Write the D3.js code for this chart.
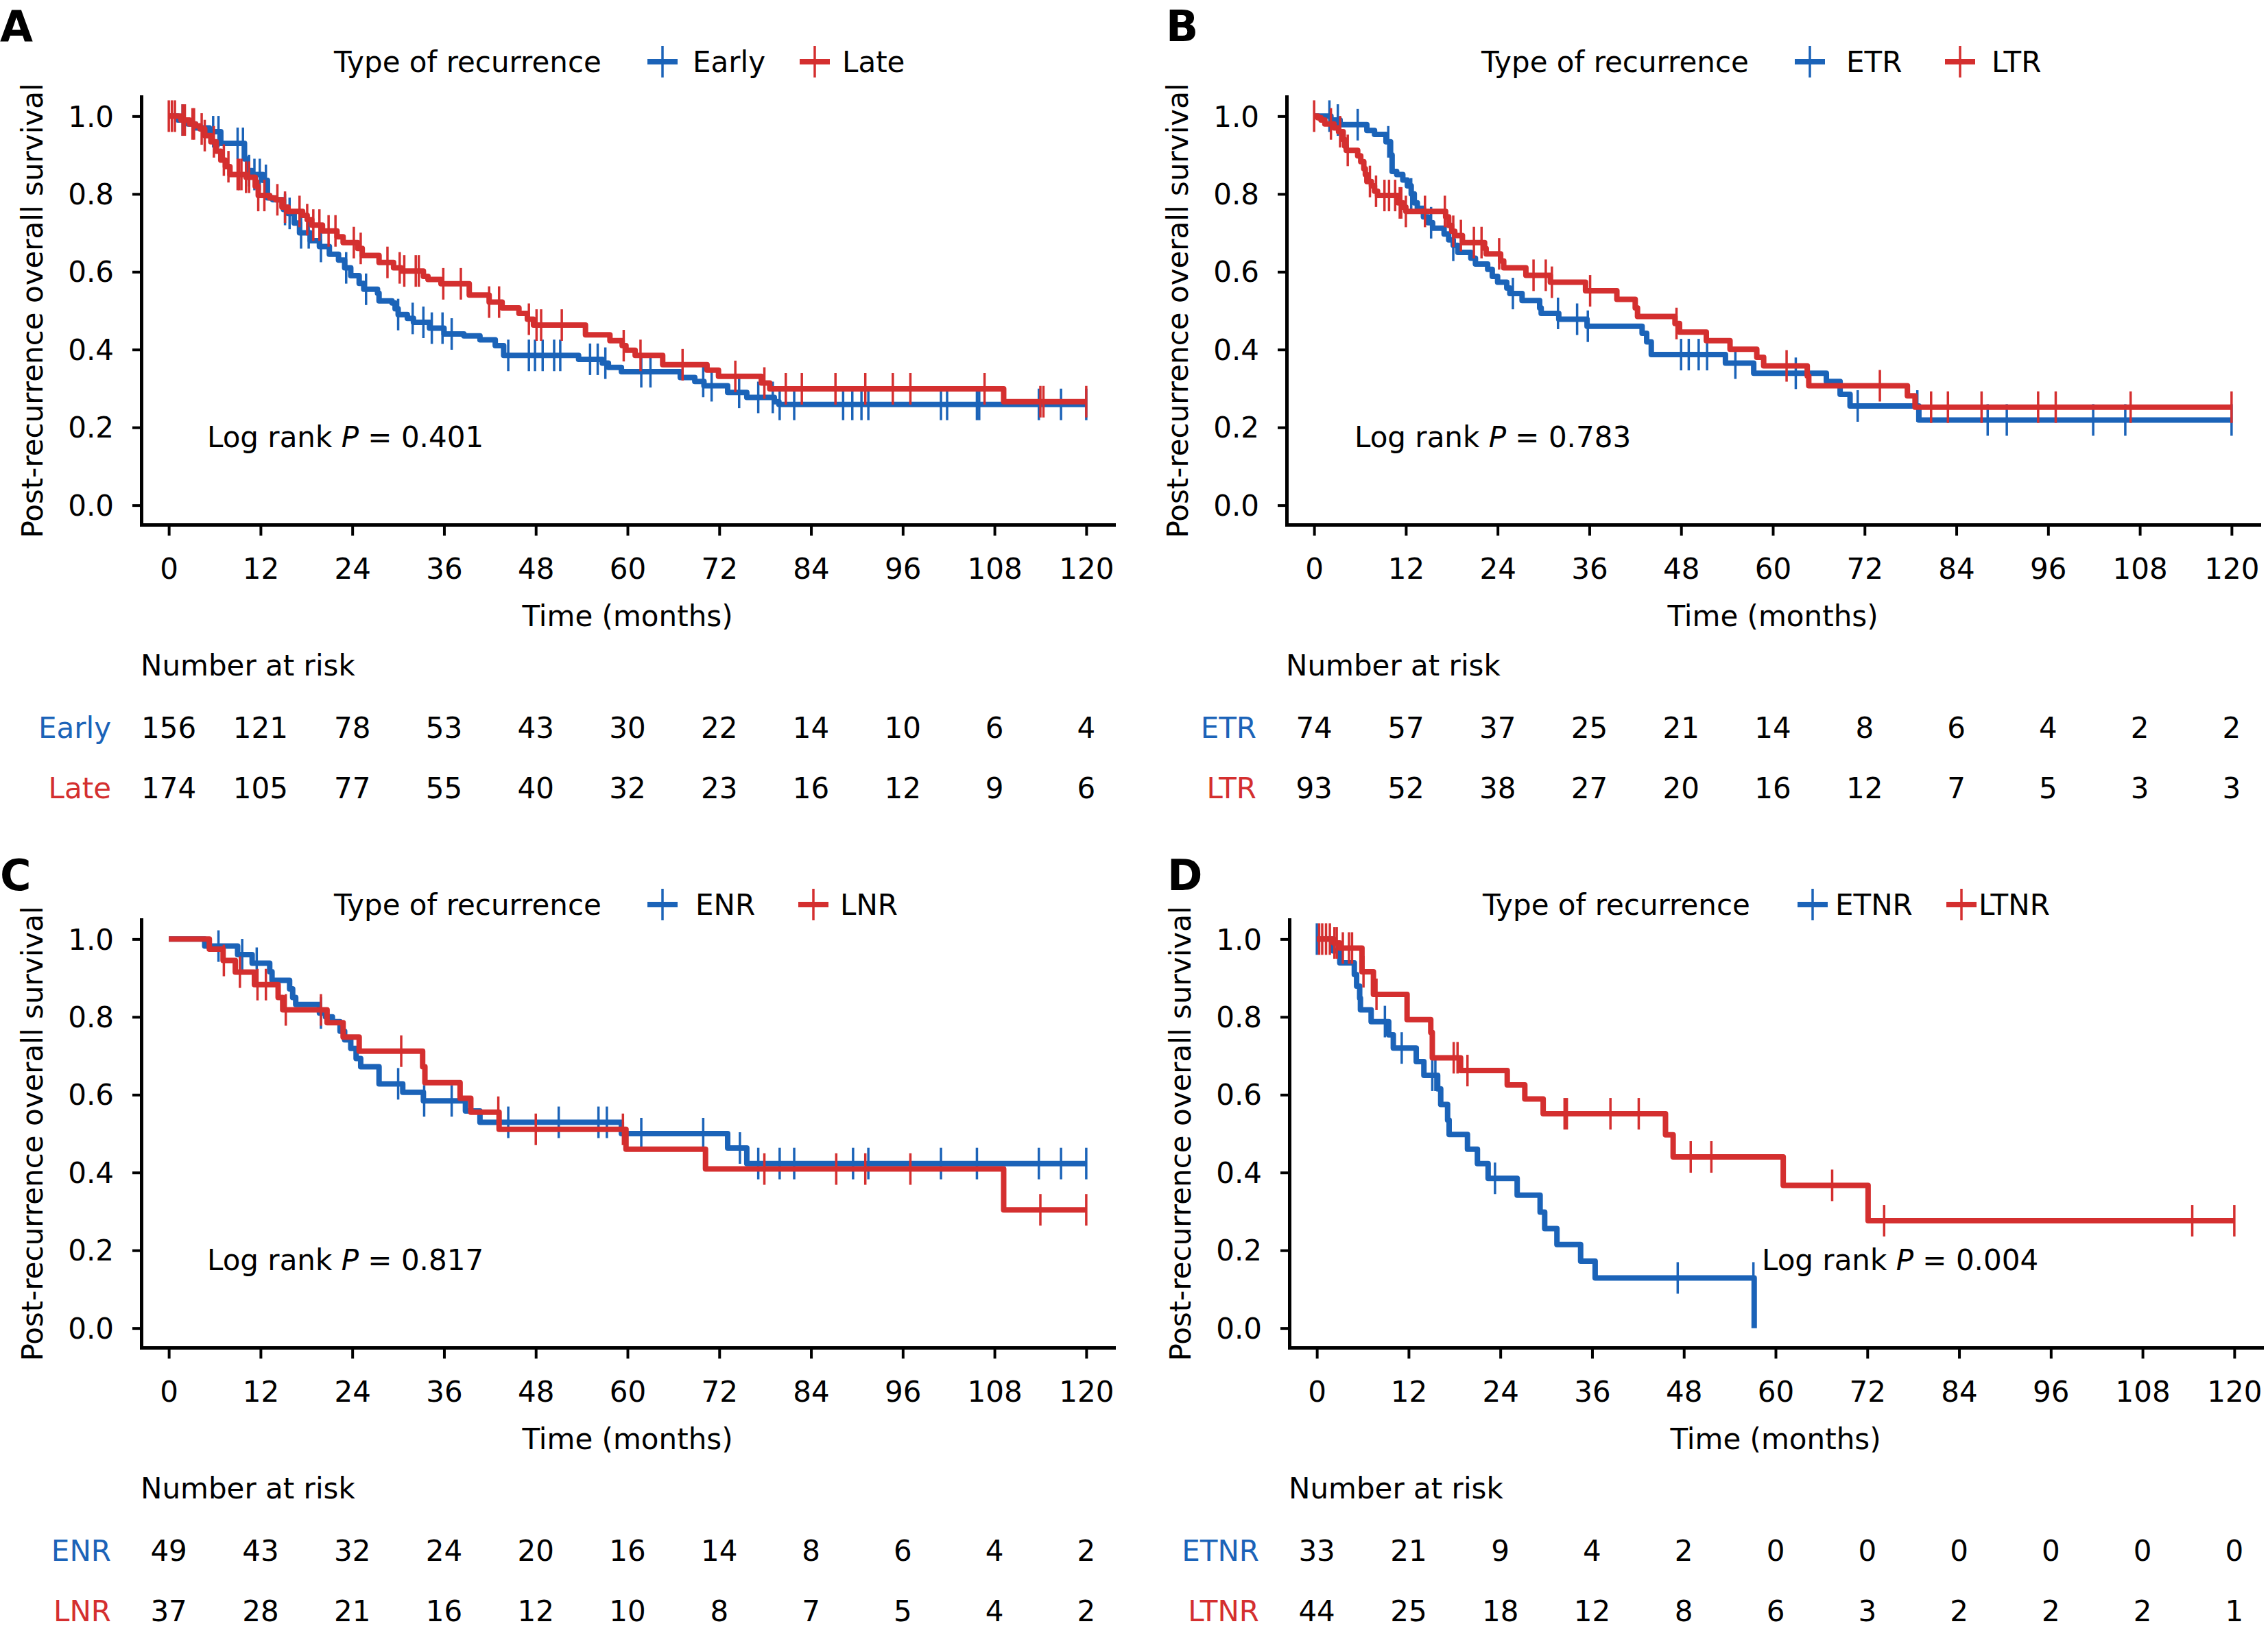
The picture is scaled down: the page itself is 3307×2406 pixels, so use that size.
<!DOCTYPE html>
<html>
<head>
<meta charset="utf-8">
<script src="https://cdn.jsdelivr.net/npm/d3@7"></script>
<style>
  body { margin: 0; background: #fff; }
  svg text { font-family: "DejaVu Sans", Verdana, sans-serif; fill: #000; }
</style>
</head>
<body>
<svg id="chart" width="3307" height="2406"></svg>
<script>
const BLUE = "#1b63b8";
const RED = "#d42f2f";

const timeTicks = [0, 12, 24, 36, 48, 60, 72, 84, 96, 108, 120];
const survTicks = [0, 0.2, 0.4, 0.6, 0.8, 1.0];

// A: early vs late recurrence  -- [time, survival after the drop]
const earlySteps = [[1.2,0.99],[2.5,0.98],[3.5,0.97],[5.3,0.96],[6.8,0.93],[9.9,0.89],[10.3,0.86],[10.9,0.85],[12.3,0.835],[12.9,0.79],[13.6,0.785],[15,0.76],[15.6,0.75],[16.4,0.725],[17.1,0.70],[18.5,0.68],[19.7,0.665],[21,0.645],[22.2,0.63],[23,0.61],[23.8,0.59],[24.9,0.57],[25.5,0.555],[27.3,0.545],[27.5,0.525],[29.2,0.52],[29.6,0.505],[30,0.49],[31.2,0.48],[32,0.47],[34.1,0.455],[36,0.44],[38.6,0.435],[40.7,0.425],[42.7,0.41],[43.8,0.385],[53.6,0.375],[56.7,0.365],[57.5,0.354],[59.2,0.343],[66.9,0.328],[68.8,0.318],[70,0.307],[73.1,0.29],[75.6,0.277],[79.2,0.266],[79.8,0.259]];
const earlyCensor = [1.8,5.8,6.5,9.0,9.7,10.5,11.2,11.9,12.7,15.2,15.8,17.3,18.3,19.9,23.2,25.8,30.0,31.9,33.3,34.4,35.8,37.0,44.4,47.1,47.9,48.9,50.4,51.2,55.1,56.1,57.1,61.8,63,69.9,71,74.6,77.1,79,79.9,81.8,88.2,89.4,90.6,91.5,101,101.8,105.7,106,113.8,116.7,120];
const lateSteps = [[1.6,0.99],[2.7,0.98],[3.5,0.975],[4.1,0.967],[4.7,0.95],[5.5,0.934],[6.2,0.91],[6.8,0.887],[7.4,0.87],[8,0.85],[10.1,0.843],[11.3,0.82],[11.7,0.796],[13.2,0.79],[14,0.785],[14.8,0.766],[15.6,0.755],[17.5,0.745],[18.1,0.734],[18.7,0.72],[20.1,0.705],[22,0.69],[22.8,0.675],[24.7,0.66],[25.3,0.642],[27.5,0.624],[29.4,0.61],[30.4,0.602],[33.3,0.588],[33.9,0.58],[35.6,0.569],[39.3,0.54],[41.9,0.522],[43.6,0.507],[45.8,0.493],[46.9,0.478],[47.7,0.463],[54.5,0.438],[57.7,0.423],[59.3,0.41],[59.8,0.398],[61,0.385],[64.6,0.361],[70.4,0.347],[71.9,0.331],[77.5,0.314],[78.6,0.299],[109.2,0.266]];
const lateCensor = [0,0.4,0.8,1.8,2.1,3.1,3.3,4.3,4.7,5.9,7.2,7.8,9.0,9.2,9.5,10.1,10.5,11.7,12.5,14.2,15.2,17.1,18.1,18.9,19.7,20.9,21.8,24.2,25.1,28.6,30.2,30.8,32.3,32.7,35.9,38.2,41.9,43.2,47.1,48.1,48.7,51.4,59.5,61.7,67.2,74.1,77.9,80.7,82.8,87.2,91.1,94.7,97,106.7,114,114.4,120];

// B: ETR vs LTR
const etrSteps = [[2.2,0.99],[3.4,0.978],[6.9,0.963],[7.9,0.953],[9.4,0.934],[10.0,0.9],[10.2,0.858],[10.8,0.85],[11.6,0.836],[12.2,0.821],[12.7,0.8],[13.1,0.777],[13.5,0.763],[14.3,0.741],[14.9,0.726],[15.5,0.712],[17,0.697],[17.6,0.682],[18.2,0.668],[18.8,0.65],[20.5,0.635],[21.1,0.62],[22.7,0.606],[23.3,0.588],[24,0.573],[25.2,0.558],[25.6,0.544],[27.2,0.526],[29.5,0.507],[29.7,0.493],[32,0.478],[35.7,0.46],[42.9,0.442],[43.5,0.42],[44.1,0.387],[53.8,0.365],[57.5,0.339],[67,0.318],[68.8,0.285],[70.1,0.255],[79.1,0.219]];
const etrCensor = [2,3.1,5.7,9.7,12.7,15.3,18.2,26,31.9,34.4,35.8,48,49,50.3,51.4,55.1,63,71.1,78.9,88.1,90.6,101.9,106.1,120];
const ltrSteps = [[0.5,0.996],[0.9,0.99],[1.4,0.98],[2.6,0.97],[3.2,0.96],[3.8,0.94],[4.0,0.923],[4.2,0.912],[5.7,0.898],[6.1,0.883],[6.5,0.865],[6.7,0.85],[6.9,0.832],[7.5,0.821],[7.9,0.807],[8.3,0.796],[11,0.777],[11.6,0.766],[12,0.755],[17.2,0.741],[17.6,0.719],[18,0.704],[18.4,0.693],[19.4,0.675],[22.3,0.66],[22.5,0.646],[24.4,0.628],[24.8,0.61],[27.7,0.591],[30.9,0.573],[35.5,0.551],[39.6,0.529],[42,0.507],[42.3,0.485],[47.2,0.467],[47.8,0.445],[51.3,0.423],[54.4,0.401],[57.9,0.38],[58.8,0.358],[64.5,0.332],[64.7,0.307],[77.6,0.281],[78.6,0.252]];
const ltrCensor = [0,2.2,3.4,4.4,7.3,8.1,9.2,9.8,10.6,11.2,11.4,12,14.5,17.1,18.2,19.2,20.9,21.9,24.2,28.7,30.3,31.1,36.1,47.4,61.8,74,80.7,82.9,87.3,94.7,97,106.8,120];

// C: ENR vs LNR
const enrSteps = [[4.7,0.982],[9,0.96],[10.9,0.938],[13.2,0.916],[13.5,0.894],[15.8,0.872],[16.2,0.85],[16.6,0.832],[19.7,0.81],[20.5,0.8],[21.4,0.788],[22.4,0.763],[23,0.741],[23.8,0.719],[24.5,0.693],[25.1,0.672],[27.5,0.628],[30.6,0.606],[33.3,0.584],[38.8,0.558],[40.7,0.529],[59.2,0.5],[73.1,0.463],[75.6,0.423]];
const enrCensor = [6.5,9.6,11.5,19.9,30,33.4,37,44.4,51,56.2,57.3,61.8,69.9,74.7,77.1,79.9,81.8,89.5,91.5,101,105.7,113.8,116.7,120];
const lnrSteps = [[5.3,0.974],[7.1,0.945],[8.7,0.915],[11.2,0.883],[14.3,0.85],[14.9,0.818],[20.7,0.785],[22.8,0.748],[24.9,0.712],[33.2,0.672],[33.5,0.631],[38.1,0.591],[39.5,0.555],[43.2,0.511],[59.8,0.46],[70.2,0.409],[109.2,0.304]];
const lnrCensor = [7.2,9.3,11.6,12.7,15.3,19.9,30.4,43.1,48,59.4,77.9,87.3,91.1,97,114,120];

// D: ETNR vs LTNR
const etnrSteps = [[2.1,0.97],[3,0.939],[4.9,0.909],[5.2,0.879],[5.6,0.848],[5.7,0.818],[7.1,0.788],[9.4,0.754],[10,0.72],[13,0.685],[14,0.65],[15.8,0.615],[16.2,0.575],[17.1,0.535],[17.3,0.498],[19.7,0.46],[21,0.423],[22.4,0.385],[26.2,0.342],[29.2,0.298],[29.8,0.256],[31.4,0.215],[34.5,0.172],[36.4,0.129],[57.2,0]];
const etnrCensor = [0,8.9,11.1,15.1,15.5,23.3,47.2,57.1];
const ltnrSteps = [[2.2,0.99],[3,0.977],[5.9,0.916],[7.4,0.858],[11.8,0.793],[14.9,0.76],[15.1,0.695],[18.8,0.662],[24.9,0.625],[27.2,0.589],[29.6,0.551],[45.6,0.497],[46.6,0.44],[61,0.367],[72.1,0.276]];
const ltnrCensor = [0.3,0.7,1.2,1.7,2.3,2.6,3.4,4.2,4.6,6.1,7.8,17.9,18.4,19.7,32.4,32.7,38.4,42.1,48.9,51.6,67.4,74.2,114.5,120];

// numbers at risk at 0, 12, ..., 120 months
const riskEarly = [156,121,78,53,43,30,22,14,10,6,4];
const riskLate  = [174,105,77,55,40,32,23,16,12,9,6];
const riskETR   = [74,57,37,25,21,14,8,6,4,2,2];
const riskLTR   = [93,52,38,27,20,16,12,7,5,3,3];
const riskENR   = [49,43,32,24,20,16,14,8,6,4,2];
const riskLNR   = [37,28,21,16,12,10,8,7,5,4,2];
const riskETNR  = [33,21,9,4,2,0,0,0,0,0,0];
const riskLTNR  = [44,25,18,12,8,6,3,2,2,2,1];

const panelLetters = ["A", "B", "C", "D"];
const groupNames = [["Early", "Late"], ["ETR", "LTR"], ["ENR", "LNR"], ["ETNR", "LTNR"]];
const pValues = ["0.401", "0.783", "0.817", "0.004"];
const endTimes = [[120, 120], [120, 120], [120, 120], [57.2, 120]];

const panels = [
  { steps: [earlySteps, lateSteps], censor: [earlyCensor, lateCensor], risk: [riskEarly, riskLate],
    dx: 0, dy: 0, letterX: 0, letterY: 38, legY: 90, titleX: 487, crossX: [966, 1188], labX: [1010, 1228], pX: 302 },
  { steps: [etrSteps, ltrSteps], censor: [etrCensor, ltrCensor], risk: [riskETR, riskLTR],
    dx: 1670, dy: 0, letterX: 30, letterY: 38, legY: 90, titleX: 490, crossX: [969, 1188], labX: [1022, 1234], pX: 305 },
  { steps: [enrSteps, lnrSteps], censor: [enrCensor, lnrCensor], risk: [riskENR, riskLNR],
    dx: 0, dy: 1200, letterX: 0, letterY: 76, legY: 119, titleX: 487, crossX: [966, 1186], labX: [1014, 1225], pX: 302 },
  { steps: [etnrSteps, ltnrSteps], censor: [etnrCensor, ltnrCensor], risk: [riskETNR, riskLTNR],
    dx: 1674, dy: 1200, letterX: 28, letterY: 76, legY: 119, titleX: 488, crossX: [969, 1186], labX: [1002, 1211], pX: 895 }
];
panels.forEach((p, i) => {
  p.letter = panelLetters[i];
  p.names = groupNames[i];
  p.pval = pValues[i];
  p.ends = endTimes[i];
});

const colors = [BLUE, RED];
const FS = 42;

function survAt(steps, t) {
  let s = 1;
  for (const [ts, v] of steps) { if (ts <= t) s = v; }
  return s;
}

function drawPanel(svg, p) {
  const g = svg.append("g").attr("transform", `translate(${p.dx},${p.dy})`);
  const x = d3.scaleLinear().domain([-3.6, 123.6]).range([206, 1624]);
  const y = d3.scaleLinear().domain([-0.05, 1.05]).range([765, 141]);

  // axes
  const xAxis = g.append("g").attr("transform", "translate(0,765)")
    .call(d3.axisBottom(x).tickValues(timeTicks).tickSize(16).tickSizeOuter(0));
  xAxis.selectAll("text").attr("y", 64).attr("dy", "0.35em");
  const yAxis = g.append("g").attr("transform", "translate(206,0)")
    .call(d3.axisLeft(y).tickValues(survTicks).tickFormat(d3.format(".1f")).tickSize(13).tickSizeOuter(0));
  yAxis.selectAll("text").attr("x", -40).attr("dy", "0.35em");
  g.selectAll(".domain").attr("stroke", "#000").attr("stroke-width", 5).attr("stroke-linecap", "square");
  g.selectAll(".tick line").attr("stroke", "#000").attr("stroke-width", 4);
  g.selectAll(".tick text").attr("font-size", FS).attr("font-family", null);

  // axis titles
  g.append("text").attr("x", x(60)).attr("y", 898).attr("dy", "0.35em")
    .attr("text-anchor", "middle").attr("font-size", FS).text("Time (months)");
  g.append("text").attr("transform", `translate(47,${(141 + 765) / 2}) rotate(-90)`)
    .attr("dy", "0.35em").attr("text-anchor", "middle").attr("font-size", FS)
    .text("Post-recurrence overall survival");

  // KM curves with censor marks
  const line = d3.line().x(d => x(d[0])).y(d => y(d[1])).curve(d3.curveStepAfter);
  [0, 1].forEach(k => {
    const steps = p.steps[k];
    const pts = [[0, 1], ...steps, [p.ends[k], steps[steps.length - 1][1]]];
    g.append("path").datum(pts).attr("d", line).attr("fill", "none")
      .attr("stroke", colors[k]).attr("stroke-width", 8).attr("stroke-linejoin", "round");
    g.append("g").selectAll("line").data(p.censor[k]).join("line")
      .attr("x1", d => x(d)).attr("x2", d => x(d))
      .attr("y1", d => y(survAt(steps, d)) - 23).attr("y2", d => y(survAt(steps, d)) + 23)
      .attr("stroke", colors[k]).attr("stroke-width", 3.5);
  });

  // legend
  g.append("text").attr("x", p.titleX).attr("y", p.legY).attr("dy", "0.35em")
    .attr("font-size", FS).text("Type of recurrence");
  [0, 1].forEach(k => {
    const cx = p.crossX[k];
    g.append("line").attr("x1", cx - 22).attr("x2", cx + 22).attr("y1", p.legY).attr("y2", p.legY)
      .attr("stroke", colors[k]).attr("stroke-width", 8);
    g.append("line").attr("x1", cx).attr("x2", cx).attr("y1", p.legY - 23).attr("y2", p.legY + 23)
      .attr("stroke", colors[k]).attr("stroke-width", 3.5);
    g.append("text").attr("x", p.labX[k]).attr("y", p.legY).attr("dy", "0.35em")
      .attr("font-size", FS).text(p.names[k]);
  });

  // log-rank p
  const pt = g.append("text").attr("x", p.pX).attr("y", 637).attr("dy", "0.35em").attr("font-size", FS);
  pt.append("tspan").text("Log rank ");
  pt.append("tspan").attr("font-style", "italic").text("P");
  pt.append("tspan").text(" = " + p.pval);

  // panel letter
  g.append("text").attr("x", p.letterX).attr("y", p.letterY).attr("dy", "0.35em")
    .attr("font-size", 62).attr("font-weight", "bold").text(p.letter);

  // number at risk table
  g.append("text").attr("x", 205).attr("y", 970).attr("dy", "0.35em")
    .attr("font-size", FS).text("Number at risk");
  const rowY = [1061, 1149];
  [0, 1].forEach(k => {
    g.append("text").attr("x", 162).attr("y", rowY[k]).attr("dy", "0.35em")
      .attr("text-anchor", "end").attr("font-size", FS).style("fill", colors[k])
      .text(p.names[k]);
    g.append("g").selectAll("text").data(p.risk[k]).join("text")
      .attr("x", (d, j) => x(timeTicks[j])).attr("y", rowY[k]).attr("dy", "0.35em")
      .attr("text-anchor", "middle").attr("font-size", FS).text(d => d);
  });
}

const svg = d3.select("#chart");
svg.append("rect").attr("width", 3307).attr("height", 2406).attr("fill", "#fff");
panels.forEach(p => drawPanel(svg, p));
</script>
</body>
</html>
